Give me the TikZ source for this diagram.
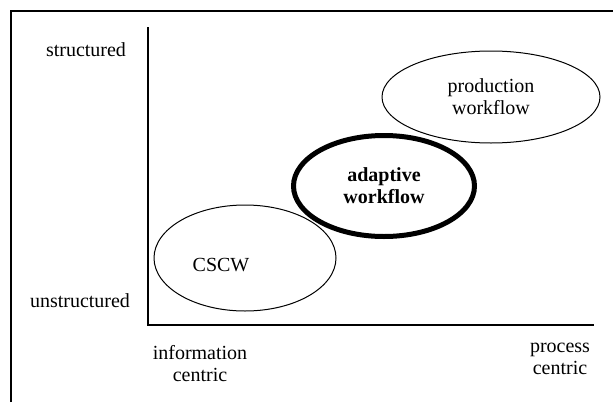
\documentclass[tikz,border=0pt]{standalone}
\usepackage{fontspec}
\setmainfont{Liberation Serif}
\usetikzlibrary{shapes.geometric, positioning}
\tikzset{
  lbl/.style={font=\fontsize{20}{22}\selectfont,align=center,inner sep=0pt},
  ell/.style={ellipse,draw,line width=1pt,inner sep=0pt,font=\fontsize{20}{22}\selectfont,align=center},
  boldell/.style={ell,fill=white,line width=5pt,font=\fontsize{20}{22}\selectfont\bfseries},
  axisline/.style={line width=1.5pt},
  frameline/.style={line width=2pt}
}
\begin{document}
\begin{tikzpicture}[x=1pt,y=-1pt]
  \useasboundingbox (0,0) rectangle (613,402);
  %% Frame
  \coordinate (fbl) at (10.5,402);
  \coordinate (ftl) at (10.5,10.5);
  \coordinate (ftr) at (613,10.5);
  \draw[frameline] (fbl) -- (ftl) -- (ftr);

  %% Axes
  \coordinate (ytop) at (148,27);
  \coordinate (origin) at (148,325);
  \coordinate (xend) at (594,325);
  \draw[axisline] (ytop) -- (origin) -- (xend);

  %% Axis labels
  \node[lbl,anchor=base] (struct) at (86,56) {structured};
  \node[lbl,anchor=base] (unstruct) at (80,307) {unstructured};
  \node[lbl] (info) at (200,364) {information\\centric};
  \node[lbl] (proc) at (560,359) {process\\centric};

  %% Ellipses
  \node[ell,minimum width=182pt,minimum height=106pt] (cscw) at (245,258) {};
  \node[lbl,anchor=base] (cscwtxt) at (221,271) {CSCW};
  \node[ell,minimum width=218pt,minimum height=92pt] (prod) at (491,97) {production\\workflow};
  \node[boldell,minimum width=181pt,minimum height=101pt] (adapt) at (384,186) {adaptive\\workflow};
\end{tikzpicture}
\end{document}
